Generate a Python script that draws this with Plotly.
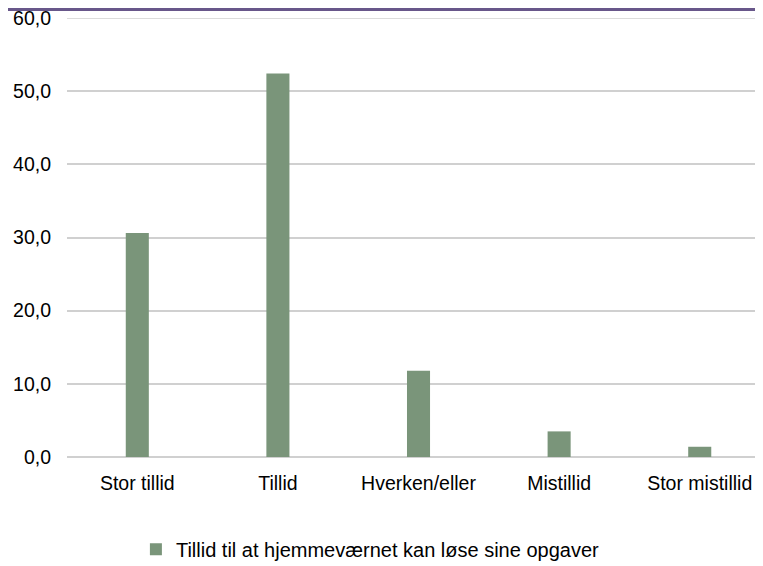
import plotly.graph_objects as go

# data
categories = ["Stor tillid", "Tillid", "Hverken/eller", "Mistillid", "Stor mistillid"]
values = [30.6, 52.4, 11.8, 3.5, 1.4]
series_name = "Tillid til at hjemmeværnet kan løse sine opgaver"
y_ticks = [0, 10, 20, 30, 40, 50, 60]

BAR = "#7a957a"
GRID = "#d0d0d0"
FONT = "Liberation Sans, Arial, sans-serif"

fig = go.Figure(go.Bar(
    x=categories,
    y=values,
    name=series_name,
    marker=dict(color=BAR, line=dict(width=0)),
    showlegend=True,
))

# the page body adds an 8px margin, so the figure is 8px smaller than the window
fig.update_layout(
    width=755, height=558,
    margin=dict(l=59, r=0, t=10, b=109, autoexpand=False),
    paper_bgcolor="white", plot_bgcolor="white",
    font=dict(family=FONT, size=19.5, color="#000000"),
    separators=", ",
    bargap=0.836,
    showlegend=True,
    legend=dict(orientation="h", x=0.099, xanchor="left", y=-0.21, yanchor="middle",
                font=dict(size=20), itemwidth=30),
    shapes=[
        # purple rule across the top of the slide
        dict(type="line", xref="paper", yref="paper", x0=-0.2, x1=1.1,
             y0=1.0194, y1=1.0194, line=dict(color="#68578a", width=3)),
        # top gridline (plotly skips the one on the plot edge)
        dict(type="line", xref="paper", yref="y", x0=0, x1=1,
             y0=y_ticks[-1], y1=y_ticks[-1], layer="below",
             line=dict(color=GRID, width=1.5)),
    ],
)

fig.update_xaxes(
    range=[-0.5, 4.45],
    showgrid=False, showline=False, zeroline=False,
    ticks="", ticklabelstandoff=12, automargin=False,
)
fig.update_yaxes(
    range=[0, 60], tickvals=y_ticks, tickformat=".1f",
    showgrid=True, gridcolor=GRID, gridwidth=1.5,
    zeroline=True, zerolinecolor=GRID, zerolinewidth=1.5,
    showline=False, ticks="", ticklabelstandoff=15, automargin=False,
    ticklabeloverflow="allow",
)

fig.write_html("out.html")
